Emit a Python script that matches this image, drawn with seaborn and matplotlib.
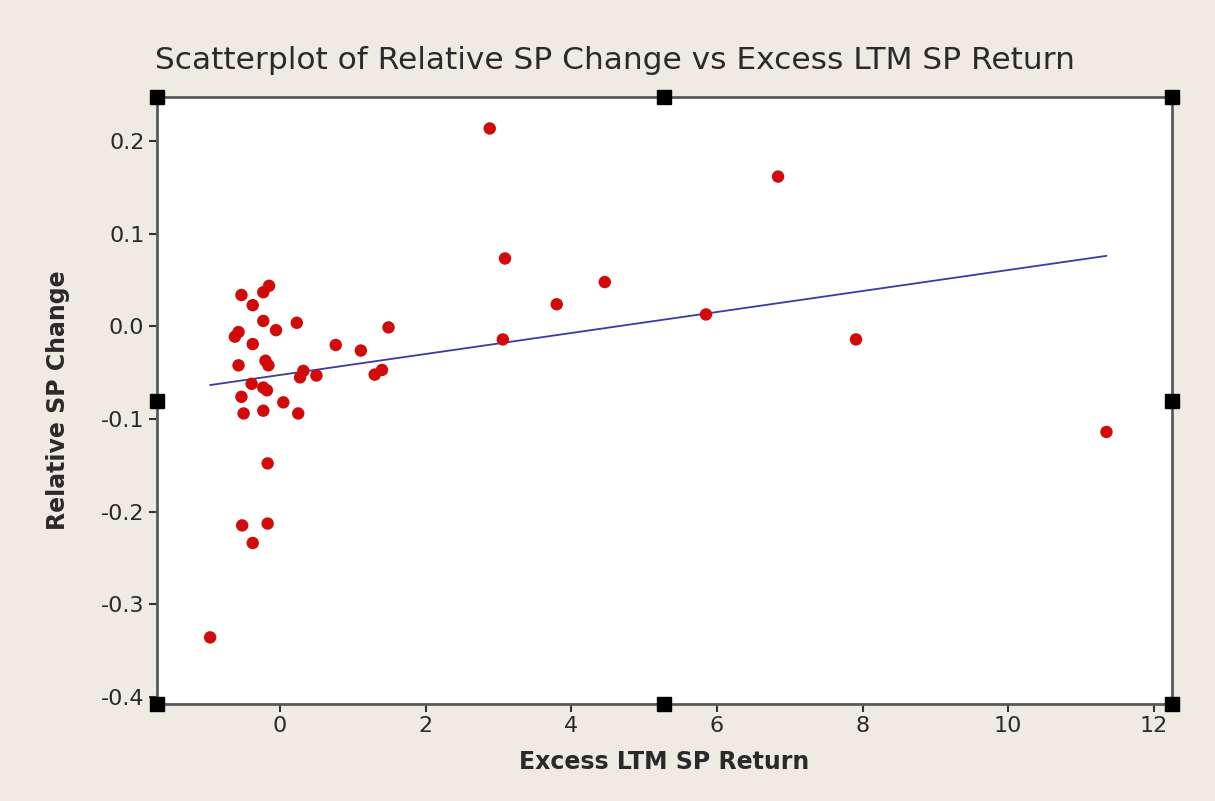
import matplotlib
matplotlib.use("Agg")
import matplotlib.pyplot as plt
import seaborn as sns
import pandas as pd
import numpy as np

excess_ltm_return = [
    2.88, 6.84, 3.09, 4.46, 3.80, 3.06, 5.85, 7.91, 11.35, -0.96,
    -0.53, -0.15, -0.23, -0.375, -0.23, -0.055, 0.23, -0.62, -0.57, -0.375,
    0.765, 1.11, 1.49, -0.57, -0.20, -0.16, 0.32, 0.275, 0.50, 1.30,
    1.40, -0.39, -0.23, -0.18, -0.53, 0.045, -0.50, -0.23, 0.25, -0.17,
    -0.52, -0.17, -0.375,
]
relative_sp_change = [
    0.214, 0.162, 0.0735, 0.048, 0.024, -0.014, 0.013, -0.014, -0.114, -0.336,
    0.034, 0.044, 0.037, 0.023, 0.006, -0.004, 0.004, -0.011, -0.006, -0.019,
    -0.020, -0.026, -0.001, -0.042, -0.037, -0.042, -0.048, -0.055, -0.053, -0.052,
    -0.047, -0.062, -0.066, -0.069, -0.076, -0.082, -0.094, -0.091, -0.094, -0.148,
    -0.215, -0.213, -0.234,
]

df = pd.DataFrame({"Excess LTM SP Return": excess_ltm_return,
                   "Relative SP Change": relative_sp_change})

sns.set_style("ticks")
plt.rcParams["font.family"] = ["DejaVu Sans"]

fig = plt.figure(figsize=(12.15, 8.01), dpi=100, facecolor="#efebe3")
ax = fig.add_axes([0.1292, 0.1211, 0.8354, 0.7578])
ax.set_facecolor("white")

sns.regplot(data=df, x="Excess LTM SP Return", y="Relative SP Change", ax=ax,
            ci=None, truncate=True,
            scatter_kws=dict(s=80, color="#d10a0a", edgecolor="none", alpha=1, zorder=3),
            line_kws=dict(color="#3a3aa8", linewidth=1.3, zorder=2))

ax.set_xlim(-1.69, 12.25)
ax.set_ylim(-0.408, 0.248)
ax.set_xticks([0, 2, 4, 6, 8, 10, 12])
ax.set_yticks([-0.4, -0.3, -0.2, -0.1, 0.0, 0.1, 0.2])
ax.set_yticklabels(["-0.4", "-0.3", "-0.2", "-0.1", "0.0", "0.1", "0.2"])

for side in ["top", "right", "left", "bottom"]:
    ax.spines[side].set_visible(True)
    ax.spines[side].set_color("#5a5a5a")
    ax.spines[side].set_linewidth(2)

ax.tick_params(axis="both", direction="out", length=6, width=1.5, color="#333333",
               labelsize=16, labelcolor="#2a2a2a", pad=3)
ax.tick_params(top=False, right=False)

ax.set_xlabel("Excess LTM SP Return", fontsize=17, fontweight="bold", color="#2a2a2a", labelpad=10)
ax.set_ylabel("Relative SP Change", fontsize=17, fontweight="bold", color="#2a2a2a", labelpad=22)
fig.text(0.506, 0.925, "Scatterplot of Relative SP Change vs Excess LTM SP Return",
         ha="center", va="center", fontsize=22.5, color="#2a2a2a")

# selection handles on the graph frame
hx = [0, 0.5, 1, 0, 1, 0, 0.5, 1]
hy = [1, 1, 1, 0.5, 0.5, 0, 0, 0]
for x, y in zip(hx, hy):
    ax.plot(x, y, marker="s", markersize=10, color="black", transform=ax.transAxes,
            clip_on=False, zorder=5)

fig.savefig("out.png", dpi=100, facecolor=fig.get_facecolor())
